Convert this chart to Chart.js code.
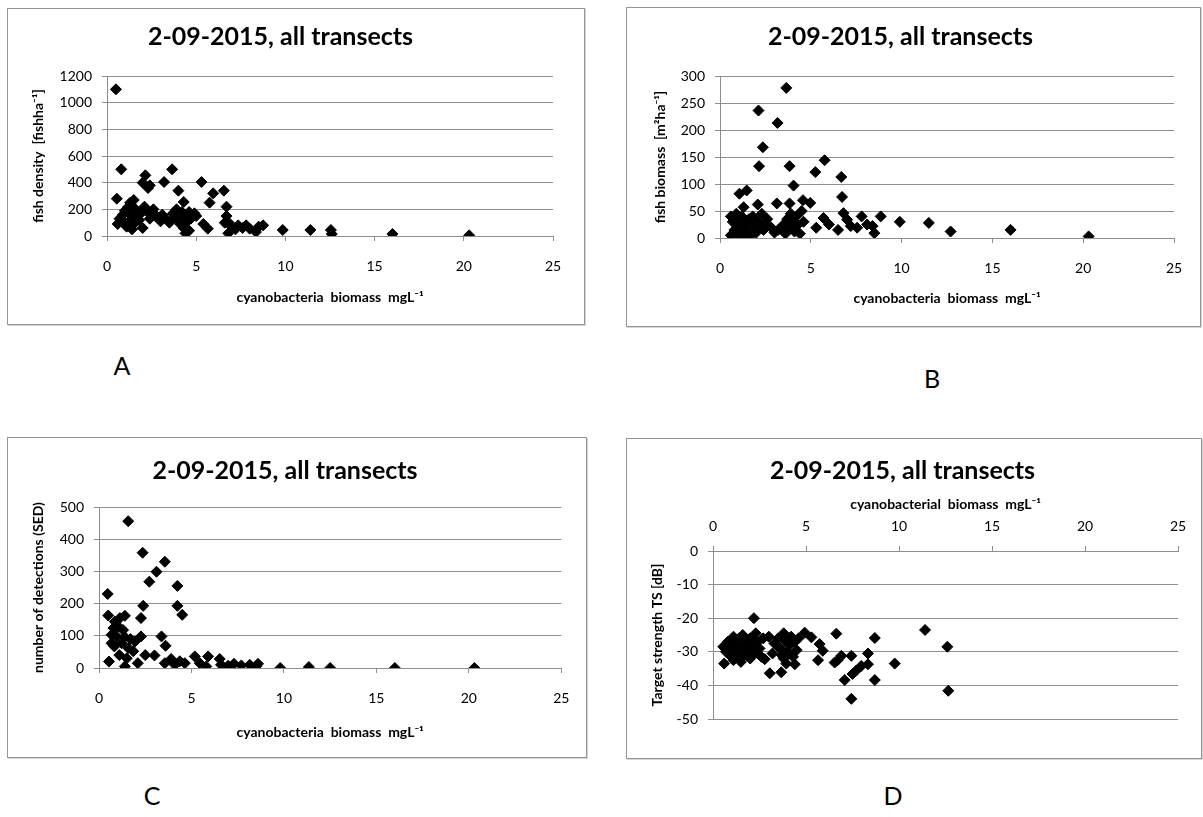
<!DOCTYPE html>
<html>
<head>
<meta charset="utf-8">
<title>2-09-2015, all transects</title>
<script src="https://cdn.jsdelivr.net/npm/chart.js@4.4.1/dist/chart.umd.min.js"></script>
<style>
  body { margin: 0; background: #fff; width: 1203px; height: 817px; position: relative; overflow: hidden;
         font-family: Lato, 'DejaVu Sans', sans-serif; }
  .panel { position: absolute; border: 1px solid #959595; box-shadow: 1px 1px 0 #d6d6d6; background: #fff; }
  .panel canvas { display: block; }
  .tag { position: absolute; font-size: 25px; color: #000; transform: translate(-50%, -50%); }
</style>
</head>
<body>
<div class="panel" style="left:7px;top:8px;"><canvas id="chartA" width="576" height="315"></canvas></div>
<div class="panel" style="left:626px;top:7px;"><canvas id="chartB" width="573" height="318"></canvas></div>
<div class="panel" style="left:7px;top:437px;"><canvas id="chartC" width="578" height="319"></canvas></div>
<div class="panel" style="left:626px;top:438px;"><canvas id="chartD" width="574" height="319"></canvas></div>
<div class="tag" style="left:122px;top:365px;">A</div>
<div class="tag" style="left:932px;top:378px;">B</div>
<div class="tag" style="left:152px;top:795px;">C</div>
<div class="tag" style="left:893px;top:795px;">D</div>
<script>
// A: fish density vs cyanobacteria biomass
var aBiomass = [0.5, 0.8, 0.55, 0.6, 0.7, 0.8, 0.9, 1.0, 1.0, 1.1, 1.2, 1.3, 1.3, 1.4, 1.4, 1.5, 1.5, 1.6, 1.7, 1.8,
                1.9, 2.0, 2.0, 2.1, 2.15, 2.2, 2.3, 2.4, 2.4, 2.5, 2.6, 2.7, 2.8, 3.0, 3.1, 3.2, 3.3, 3.5, 3.65, 3.7,
                3.8, 3.9, 4.0, 4.0, 4.1, 4.2, 4.3, 4.3, 4.4, 4.4, 4.5, 4.6, 4.6, 4.7, 4.9, 5.0, 5.3, 5.4, 5.65, 5.75,
                5.95, 6.55, 6.6, 6.7, 6.7, 6.8, 6.9, 7.0, 7.2, 7.35, 7.6, 7.8, 8.0, 8.35, 8.5, 8.75, 9.85, 11.4, 12.55, 12.6,
                16.0, 20.3];
var aDensity = [1100, 500, 280, 90, 130, 110, 160, 190, 100, 70, 220, 250, 160, 130, 50, 270, 90, 200, 150, 120,
                170, 60, 400, 220, 455, 190, 360, 380, 130, 180, 200, 160, 140, 110, 160, 405, 130, 100, 500, 170,
                140, 200, 340, 120, 90, 180, 255, 60, 20, 150, 110, 180, 40, 130, 170, 150, 405, 90, 55, 250,
                320, 340, 100, 220, 150, 20, 90, 65, 50, 80, 60, 80, 55, 30, 70, 80, 45, 45, 45, 15,
                15, 5];

// B: fish biomass vs cyanobacteria biomass
var bBiomass = [0.6, 0.6, 0.7, 0.8, 0.9, 1.0, 1.0, 1.07, 1.1, 1.2, 1.2, 1.3, 1.3, 1.4, 1.47, 1.5, 1.6, 1.6, 1.7, 1.8,
                1.9, 2.0, 2.08, 2.1, 2.12, 2.15, 2.2, 2.3, 2.36, 2.4, 2.5, 2.6, 2.8, 3.0, 3.13, 3.17, 3.2, 3.5, 3.6, 3.65,
                3.7, 3.8, 3.83, 3.83, 3.9, 4.0, 4.05, 4.1, 4.2, 4.3, 4.4, 4.5, 4.57, 4.6, 4.97, 5.25, 5.3, 5.7, 5.76, 6.0,
                6.5, 6.68, 6.72, 6.8, 7.0, 7.2, 7.55, 7.8, 8.1, 8.4, 8.5, 8.85, 9.9, 11.5, 12.7, 16.0, 20.3];
var bFishBiomass = [40, 5, 30, 15, 45, 25, 5, 82, 35, 10, 40, 57, 20, 3, 88, 30, 15, 35, 5, 40,
                    25, 10, 62, 30, 236, 133, 20, 45, 168, 15, 25, 35, 20, 10, 64, 213, 15, 25, 8, 278,
                    35, 20, 133, 64, 45, 30, 97, 12, 40, 25, 8, 50, 70, 30, 65, 122, 19, 37, 144, 25,
                    15, 113, 76, 46, 34, 22, 19, 40, 25, 22, 9, 40, 30, 28, 12, 15, 3];

// C: number of single echo detections vs cyanobacteria biomass
var cBiomass = [0.47, 0.5, 0.54, 0.68, 0.68, 0.78, 0.83, 0.86, 0.95, 1.04, 1.1, 1.13, 1.22, 1.3, 1.4, 1.4, 1.4, 1.5, 1.58, 1.58,
                1.7, 1.85, 1.94, 2.1, 2.27, 2.27, 2.36, 2.39, 2.5, 2.72, 3.0, 3.11, 3.38, 3.56, 3.56, 3.6, 3.9, 4.1, 4.24, 4.24,
                4.37, 4.5, 4.64, 5.18, 5.45, 5.8, 5.9, 6.53, 6.6, 6.98, 7.3, 7.7, 8.15, 8.5, 8.6, 9.8, 11.35, 12.5, 16.0, 20.3];
var cDetections = [230, 163, 20, 103, 77, 124, 67, 144, 98, 129, 40, 155, 77, 118, 162, 96, 5, 30, 456, 62,
                   90, 52, 82, 15, 155, 98, 358, 193, 40, 268, 39, 299, 98, 330, 15, 69, 28, 10, 255, 193,
                   21, 165, 15, 36, 15, 5, 36, 28, 10, 7, 13, 8, 10, 5, 13, 0, 3, 0, 0, 0];

// D: mean target strength vs cyanobacteria biomass
var dBiomass = [0.55, 0.6, 0.7, 0.8, 0.9, 0.9, 1.0, 1.1, 1.1, 1.2, 1.2, 1.3, 1.4, 1.4, 1.5, 1.5, 1.6, 1.7, 1.7, 1.8,
                1.9, 2.0, 2.0, 2.1, 2.2, 2.2, 2.3, 2.4, 2.5, 2.6, 2.7, 2.78, 3.0, 3.05, 3.2, 3.3, 3.5, 3.6, 3.67, 3.7,
                3.8, 3.8, 3.9, 3.94, 4.0, 4.1, 4.2, 4.3, 4.4, 4.4, 4.5, 4.6, 4.93, 5.29, 5.65, 5.73, 5.9, 6.54, 6.63, 6.7,
                6.9, 7.08, 7.44, 7.44, 7.5, 7.7, 7.97, 8.33, 8.33, 8.7, 8.7, 9.77, 11.4, 12.6, 12.65];
var dTargetStrength = [-28.5, -33.5, -30, -27, -31, -27, -29, -25.5, -32.5, -28, -31.5, -30.5, -26, -30, -33, -28.5, -25, -31, -26, -27.5,
                       -29.5, -26, -32, -28, -20, -30.5, -24.5, -27, -29, -31.5, -26, -32.2, -25.5, -36.4, -30.5, -27.5, -26, -29, -36.1, -31,
                       -24.5, -32, -27, -33.5, -30, -28, -25.5, -31.5, -27, -33.7, -29.5, -26, -24.3, -25.7, -32.5, -27.7, -29.7, -33.2, -24.6, -32.5,
                       -31.2, -38.4, -31.2, -44, -36.6, -35.6, -34.2, -30.5, -33.7, -25.9, -38.4, -33.5, -23.5, -28.5, -41.6];

var FONT = "Lato, 'DejaVu Sans', sans-serif";
var GRID = '#8e8e8e';

function scatterPanel(id, o) {
  var pts = o.x.map(function(v, i) { return {x: v, y: o.y[i]}; });
  return new Chart(document.getElementById(id), {
    type: 'scatter',
    data: {
      datasets: [{
        data: pts,
        pointStyle: 'rectRot',
        pointRadius: 5.5,
        pointHoverRadius: 5.5,
        backgroundColor: '#000',
        borderColor: '#000',
        borderWidth: 1
      }]
    },
    options: {
      responsive: false,
      animation: false,
      devicePixelRatio: 1,
      layout: { padding: { left: 0, top: 0, right: o.right, bottom: o.bottom || 0 } },
      plugins: {
        legend: { display: false },
        tooltip: { enabled: false },
        title: {
          display: true,
          text: '2-09-2015, all transects',
          color: '#000',
          font: { family: FONT, size: 25, weight: 'bold', lineHeight: 1.2 },
          padding: { top: o.titleTop, bottom: o.titleBottom }
        }
      },
      scales: {
        x: {
          type: 'linear',
          position: o.xPos || 'bottom',
          min: 0, max: 25,
          ticks: { stepSize: 5, maxRotation: 0, color: '#000', padding: o.xTickPad,
                   font: { family: FONT, size: 14 } },
          grid: { drawOnChartArea: false, drawTicks: true, tickLength: 5, color: GRID },
          border: { display: true, color: GRID },
          title: { display: true, text: o.xTitle, color: '#000', padding: o.xTitlePad,
                   font: { family: FONT, size: 14, weight: 'bold', lineHeight: 1.2 } },
          afterFit: function(s) { if (o.xHeight) s.height = o.xHeight; }
        },
        y: {
          min: o.yMin, max: o.yMax,
          ticks: { stepSize: o.yStep, color: '#000', padding: 10,
                   format: { useGrouping: false },
                   font: { family: FONT, size: 14 } },
          grid: { drawTicks: true, tickLength: 5, color: GRID },
          border: { display: true, color: GRID },
          title: { display: true, text: o.yTitle, color: '#000', padding: { top: o.yTitlePad, bottom: 0 },
                   font: { family: FONT, size: 14, weight: 'bold', lineHeight: 1.2 } },
          afterFit: function(s) { s.width = o.yWidth; }
        }
      }
    }
  });
}

scatterPanel('chartA', {
  x: aBiomass, y: aDensity,
  yMin: 0, yMax: 1200, yStep: 200,
  yTitle: 'fish density  [fishha\u207B\u00B9]',
  xTitle: 'cyanobacteria  biomass  mgL\u207B\u00B9',
  titleTop: 13, titleBottom: 24,
  yWidth: 99, yTitlePad: 21.6, right: 31,
  xHeight: 88, xTickPad: 17, xTitlePad: { top: 0, bottom: 18.6 }
});

scatterPanel('chartB', {
  x: bBiomass, y: bFishBiomass,
  yMin: 0, yMax: 300, yStep: 50,
  yTitle: 'fish biomass  [m\u00B2ha\u207B\u00B9]',
  xTitle: 'cyanobacteria  biomass  mgL\u207B\u00B9',
  titleTop: 14, titleBottom: 24,
  yWidth: 93, yTitlePad: 24.6, right: 26,
  xHeight: 88, xTickPad: 16.6, xTitlePad: { top: 0, bottom: 19.6 }
});

scatterPanel('chartC', {
  x: cBiomass, y: cDetections,
  yMin: 0, yMax: 500, yStep: 100,
  yTitle: 'number of detections (SED)',
  xTitle: 'cyanobacteria  biomass  mgL\u207B\u00B9',
  titleTop: 18, titleBottom: 21,
  yWidth: 91, yTitlePad: 21.6, right: 24,
  xHeight: 89, xTickPad: 16.6, xTitlePad: { top: 0, bottom: 16.6 }
});

// x axis on top, crossing at TS = 0
scatterPanel('chartD', {
  x: dBiomass, y: dTargetStrength,
  yMin: -50, yMax: 0, yStep: 10,
  yTitle: 'Target strength TS [dB]',
  xTitle: 'cyanobacterial  biomass  mgL\u207B\u00B9',
  xPos: 'top',
  titleTop: 17, titleBottom: 3,
  yWidth: 86, yTitlePad: 21.6, right: 23, bottom: 39,
  xHeight: 62, xTickPad: 11.6, xTitlePad: { top: 6.6, bottom: 0 }
});
</script>
</body>
</html>
